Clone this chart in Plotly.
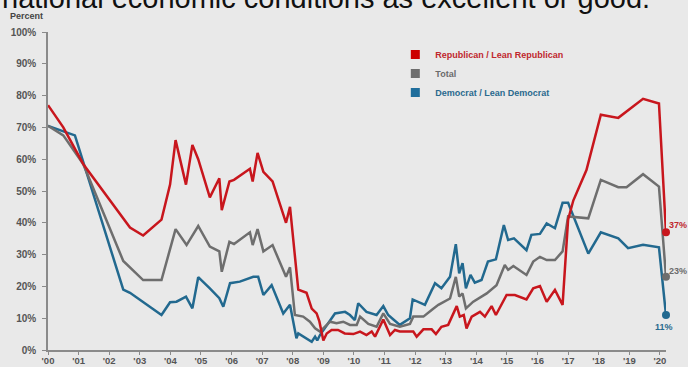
import plotly.graph_objects as go

# ---------------- data ----------------
rep_x = [2000.0, 2000.5, 2001.15, 2002.35, 2002.68, 2003.11, 2003.71, 2003.99, 2004.17, 2004.51,
         2004.72, 2004.91, 2005.29, 2005.6, 2005.68, 2005.93, 2006.08, 2006.6, 2006.69, 2006.85,
         2007.04, 2007.34, 2007.78, 2007.91, 2008.18, 2008.45, 2008.62, 2008.78, 2008.87, 2009.0,
         2009.11, 2009.27, 2009.48, 2009.7, 2009.98, 2010.2, 2010.41, 2010.58, 2010.69, 2010.96,
         2011.18, 2011.34, 2011.5, 2011.94, 2012.05, 2012.27, 2012.54, 2012.68, 2012.86, 2013.08,
         2013.36, 2013.46, 2013.59, 2013.68, 2013.85, 2014.12, 2014.28, 2014.5, 2014.64, 2014.99,
         2015.26, 2015.64, 2015.86, 2016.08, 2016.3, 2016.57, 2016.82, 2017.0, 2017.17, 2017.6,
         2018.07, 2018.64, 2019.45, 2019.97, 2020.2]
rep_y = [77, 70, 58.5, 43, 38.5, 36, 41, 52, 66, 52,
         64.5, 60, 48, 54, 44, 53, 53.5, 57, 53, 62,
         56, 53, 40, 45, 19, 18, 13, 11.5, 9, 3,
         5.2, 6.3, 6.3, 5.2, 5, 5.8, 4.7, 5.8, 4.2, 9.6,
         4.7, 6.3, 5.8, 5.8, 4.2, 6.5, 6.5, 5, 7.3, 7.9,
         13.8, 10.5, 11, 6.8, 10.5, 12, 10.5, 13.8, 11, 17.3,
         17.3, 15.9, 19.4, 20.1, 15.2, 18.9, 14.2, 41, 47, 56.6,
         74, 73, 79, 77.5, 37]

tot_x = [2000.0, 2000.5, 2001.15, 2002.46, 2003.11, 2003.71, 2004.17, 2004.53, 2004.91, 2005.29,
         2005.6, 2005.68, 2005.93, 2006.08, 2006.6, 2006.69, 2006.85, 2007.04, 2007.34, 2007.78,
         2007.91, 2008.07, 2008.34, 2008.56, 2008.73, 2008.89, 2009.22, 2009.43, 2009.65, 2009.87,
         2010.09, 2010.2, 2010.47, 2010.74, 2010.96, 2011.18, 2011.5, 2011.83, 2011.94, 2012.27,
         2012.54, 2012.76, 2013.14, 2013.33, 2013.44, 2013.55, 2013.66, 2013.9, 2014.34, 2014.66,
         2014.93, 2015.04, 2015.21, 2015.64, 2015.86, 2016.08, 2016.3, 2016.57, 2016.82, 2017.0,
         2017.66, 2018.07, 2018.64, 2018.91, 2019.45, 2019.97, 2020.2]
tot_y = [70.5, 67.5, 58.5, 28, 22, 22, 38, 33, 39, 32.5,
         31, 24.6, 34, 33.3, 37, 33, 38, 31, 33, 23,
         26, 11, 10.5, 8.9, 6.8, 5.8, 8.9, 8.4, 8.9, 7.9,
         7.9, 10.5, 8.2, 7.3, 11.5, 8.2, 7.3, 8.2, 10.5, 10.5,
         12.6, 14.2, 16.2, 23, 16.8, 17.8, 13.1, 15.2, 17.8, 20.4,
         26.7, 25.2, 26.4, 23.6, 27.8, 29.3, 28.3, 28.3, 31, 42,
         41.4, 53.5, 51.2, 51.2, 55.3, 51.4, 23]

dem_x = [2000.0, 2000.88, 2002.46, 2002.68, 2003.71, 2003.99, 2004.2, 2004.51, 2004.72, 2004.91,
         2005.29, 2005.6, 2005.73, 2005.95, 2006.27, 2006.71, 2006.87, 2007.04, 2007.31, 2007.69,
         2007.91, 2008.12, 2008.18, 2008.45, 2008.62, 2008.73, 2008.8, 2008.89, 2009.22, 2009.38,
         2009.71, 2009.87, 2010.03, 2010.14, 2010.41, 2010.74, 2010.96, 2011.12, 2011.29, 2011.5,
         2011.83, 2011.92, 2012.32, 2012.65, 2012.86, 2013.14, 2013.33, 2013.44, 2013.55, 2013.66,
         2013.81, 2013.95, 2014.17, 2014.38, 2014.64, 2014.9, 2015.04, 2015.23, 2015.64, 2015.8,
         2016.08, 2016.3, 2016.57, 2016.82, 2017.0, 2017.66, 2018.07, 2018.64, 2018.96, 2019.45,
         2019.97, 2020.2]
dem_y = [70.5, 67.5, 19, 18, 11, 15, 15.2, 16.8, 13.1, 22.9,
         19.4, 16.3, 13.6, 21, 21.5, 23, 23, 17.3, 20.4, 11.5,
         14.2, 3.7, 5.2, 3.7, 2.6, 4.2, 3, 4.7, 9.4, 11.5,
         12, 11, 9.4, 14.7, 12, 11, 13.8, 11, 9.6, 7.9,
         10, 15.9, 14.2, 21, 19.4, 23, 33.3, 24.1, 27.3, 19.4,
         23.6, 21.2, 22, 27.8, 28.5, 39.3, 34.6, 35.1, 31.4, 36.2,
         36.5, 39.8, 38.3, 46.3, 46.3, 30.3, 37, 35.1, 32, 33.1,
         32.3, 11]

series_names = ["Republican / Lean Republican", "Total", "Democrat / Lean Democrat"]
end_labels = ["37%", "23%", "11%"]
year_ticks = list(range(2000, 2021))
year_labels = ["'%02d" % (y % 100) for y in year_ticks]
y_ticks = list(range(0, 101, 10))
y_labels = ["%d%%" % v for v in y_ticks]

title_text = "national economic conditions as excellent or good."

# ---------------- styles ----------------
RED, GRAY, BLUE = "#c8161d", "#6e6e6e", "#22698f"
RED_T, GRAY_T, BLUE_T = "#c0272d", "#6b6b6b", "#2a6a8e"
BG = "#e9e9e9"
FONT = "Liberation Sans, Arial, sans-serif"

fig = go.Figure()

for xs, ys, col in [(dem_x, dem_y, BLUE), (tot_x, tot_y, GRAY), (rep_x, rep_y, RED)]:
    fig.add_trace(go.Scatter(x=xs, y=ys, mode="lines", line=dict(color=col, width=2.5),
                             showlegend=False, cliponaxis=False, hoverinfo="skip"))

# end markers
end_x = [rep_x[-1], tot_x[-1], dem_x[-1]]
end_y = [rep_y[-1], tot_y[-1], dem_y[-1]]
fig.add_trace(go.Scatter(x=end_x, y=end_y, mode="markers",
                         marker=dict(color=[RED, GRAY, BLUE], size=8),
                         showlegend=False, cliponaxis=False, hoverinfo="skip"))

# legend entries
for name, col, tcol in zip(series_names, ["#cc0000", "#6d6d6d", "#1f6e9c"], [RED_T, GRAY_T, BLUE_T]):
    fig.add_trace(go.Scatter(x=[None], y=[None], mode="markers",
                             marker=dict(symbol="square", size=9, color=col),
                             name='<span style="color:%s">%s</span>' % (tcol, name)))

annotations = [
    dict(text=title_text, xref="paper", yref="paper", x=-48 / 618, y=(350 + 1.5) / 318,
         xanchor="left", yanchor="middle", showarrow=False,
         font=dict(family=FONT, size=29, color="#111111")),
    dict(text="Percent", xref="paper", yref="paper", x=-40 / 618, y=(350 - 16.5) / 318,
         xanchor="left", yanchor="middle", showarrow=False,
         font=dict(family=FONT, size=9, color="#444444", weight="bold")),
]
# end labels
label_style = [(RED_T, "left", "middle", 1, 7), (GRAY_T, "left", "middle", 1, 6),
               (BLUE_T, "center", "top", -2, -5)]
for xv, yv, txt, (tc, xa, ya, xs_, ys_) in zip(end_x, end_y, end_labels, label_style):
    annotations.append(dict(text=txt, x=xv, y=yv, xref="x", yref="y", xanchor=xa, yanchor=ya,
                            xshift=xs_, yshift=ys_, showarrow=False,
                            font=dict(family=FONT, size=9, color=tc, weight="bold")))

fig.update_layout(
    width=688, height=367,
    margin=dict(l=48, r=22, t=32, b=17, autoexpand=False),
    paper_bgcolor=BG, plot_bgcolor=BG,
    font=dict(family=FONT, size=10, color="#555555"),
    legend=dict(x=0.562, y=0.975, xanchor="left", yanchor="top",
                bgcolor="rgba(0,0,0,0)", font=dict(family=FONT, size=9, weight="bold"),
                traceorder="normal"),
    xaxis=dict(range=[2000, 2020.2], tickvals=year_ticks, ticktext=year_labels, automargin=False,
               showgrid=False, zeroline=False, showline=True, linecolor="#8a8a8a", linewidth=1.5,
               ticks="outside", ticklen=3, tickcolor="#8a8a8a", tickwidth=1, ticklabelstandoff=-2,
               tickfont=dict(family=FONT, size=9.5, color="#555555", weight="bold")),
    yaxis=dict(range=[0, 100], tickvals=y_ticks, ticktext=y_labels, automargin=False,
               showgrid=False, zeroline=False, showline=True, linecolor="#8a8a8a", linewidth=1.5,
               ticks="outside", ticklen=4, tickcolor="#8a8a8a", tickwidth=1, ticklabelstandoff=4,
               tickfont=dict(family=FONT, size=10, color="#555555", weight="bold")),
    annotations=annotations,
)

fig.write_html("out.html")
